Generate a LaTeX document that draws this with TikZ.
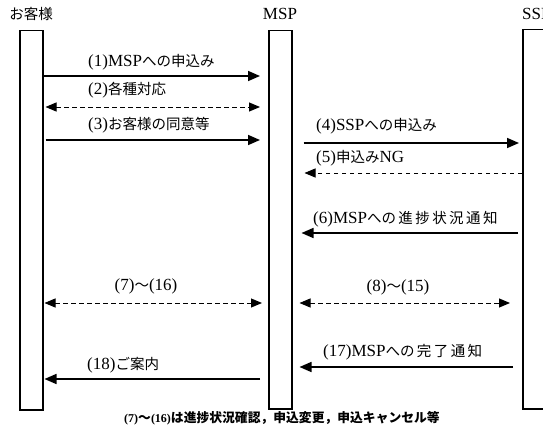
\documentclass[tikz,border=0pt]{standalone}
\usepackage{fontspec}
\setmainfont{Liberation Serif}
\newfontfamily\cjk{Noto Sans CJK JP}
\usetikzlibrary{arrows.meta}
\newcommand{\lt}[1]{{\fontsize{17}{17}\selectfont #1}}
\newcommand{\jp}[1]{{\cjk\fontsize{14.5}{15}\selectfont #1}}
\newcommand{\ft}[1]{{\bfseries\fontsize{12}{12}\selectfont #1}}
\newcommand{\fj}[1]{{\cjk\bfseries\fontsize{12.8}{13}\selectfont #1}}
\begin{document}
\begin{tikzpicture}[x=1pt,y=-1pt,
  bar/.style={draw=black,line width=1.5pt,fill=white,minimum width=23pt,inner sep=0pt,anchor=north west},
  lbl/.style={inner sep=0pt,anchor=west},
  hdr/.style={inner sep=0pt},
  sol/.style={line width=1.6pt,-{Triangle[length=12pt,width=10pt]}},
  dsh/.style={line width=1pt,dash pattern=on 4.5pt off 3.5pt,{Triangle[length=11pt,width=9pt]}-{Triangle[length=11pt,width=9pt]}},
  dshl/.style={line width=1pt,dash pattern=on 4.5pt off 3.5pt,-{Triangle[length=11pt,width=9pt]}}]
\useasboundingbox (0,0) rectangle (543,428);
\fill[white] (0,0) rectangle (543,428);
% lifelines
\node[bar,minimum height=379pt] (C) at (19,30) {};
\node[bar,minimum height=378pt] (M) at (268,30) {};
\node[bar,minimum height=379pt,minimum width=26pt] (S) at (522,29) {};
% headers
\node[hdr] (hC) at (31,14) {\jp{お客様}};
\node[hdr] (hM) at (280,14) {\lt{MSP}};
\node[hdr,anchor=west] (hS) at (522,14) {\lt{SSP}};
% (1)
\draw[sol] (C.east |- 0,76) -- ([xshift=-8pt]M.west |- 0,76);
\node[lbl] (l1) at (88,62) {\lt{(1)MSP}\jp{への申込み}};
% (2)
\draw[dsh] ([xshift=2pt]C.east |- 0,107) -- ([xshift=-8pt]M.west |- 0,107);
\node[lbl] (l2) at (88,90) {\lt{(2)}\jp{各種対応}};
% (3)
\draw[sol] ([xshift=2pt]C.east |- 0,140) -- ([xshift=-8pt]M.west |- 0,140);
\node[lbl] (l3) at (88,125) {\lt{(3)}\jp{お客様の同意等}};
% (4)
\draw[sol] ([xshift=11pt]M.east |- 0,143) -- ([xshift=-3pt]S.west |- 0,143);
\node[lbl] (l4) at (316,126) {\lt{(4)SSP}\jp{への申込み}};
% (5)
\draw[dshl] (S.west |- 0,173) -- ([xshift=12pt]M.east |- 0,173);
\node[lbl] (l5) at (316,158) {\lt{(5)}\jp{申込み}\lt{NG}};
% (6)
\draw[sol] ([xshift=-4pt]S.west |- 0,233) -- ([xshift=9pt]M.east |- 0,233);
\node[lbl] (l6) at (313,219) {\lt{(6)MSP}\jp{への\,進\,捗\,状\,況\,通\,知}};
% (7)-(16)
\draw[dsh] ([xshift=1pt]C.east |- 0,303) -- ([xshift=-6pt]M.west |- 0,303);
\node[hdr] (l7) at (146,286) {\lt{(7)}\jp{～}\lt{(16)}};
% (8)-(15)
\draw[dsh] ([xshift=7pt]M.east |- 0,303) -- ([xshift=-12pt]S.west |- 0,303);
\node[hdr] (l8) at (398,287) {\lt{(8)}\jp{～}\lt{(15)}};
% (17)
\draw[sol] ([xshift=-9pt]S.west |- 0,367) -- ([xshift=7pt]M.east |- 0,367);
\node[lbl] (l17) at (323,352) {\lt{(17)MSP}\jp{への\,完\,了\,通\,知}};
% (18)
\draw[sol] ([xshift=-8pt]M.west |- 0,379) -- ([xshift=1pt]C.east |- 0,379);
\node[lbl] (l18) at (87,365) {\lt{(18)}\jp{ご案内}};
% footnote
\node[hdr] (fn) at (282,418) {\ft{(7)}\fj{～}\ft{(16)}\fj{は進捗状況確認，申込変更，申込キャンセル等}};
\end{tikzpicture}
\end{document}
